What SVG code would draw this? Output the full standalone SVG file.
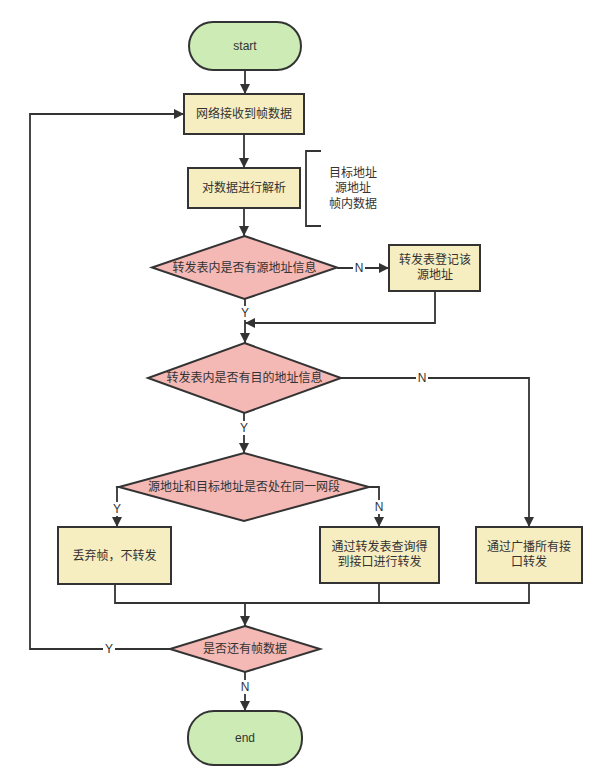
<svg xmlns="http://www.w3.org/2000/svg" width="614" height="777" viewBox="0 0 614 777">
<style>
text{font-family:"Liberation Sans","Noto Sans CJK SC",sans-serif;font-size:12px;fill:#333;text-anchor:middle;dominant-baseline:central}
.term{fill:#cdebb4;stroke:#333;stroke-width:2}
.proc{fill:#f6edc0;stroke:#333;stroke-width:2}
.dec{fill:#f4b8b5;stroke:#333;stroke-width:2}
.ln{fill:none;stroke:#333;stroke-width:1.8}
.lbl{fill:#fff}
</style>
<defs>
<marker id="ah" markerUnits="userSpaceOnUse" markerWidth="10" markerHeight="10" refX="10" refY="5" orient="auto" viewBox="0 0 10 10">
<path d="M0,0 L10,5 L0,10 z" fill="#333"/>
</marker>
</defs>
<rect width="614" height="777" fill="#fff"/>
<g id="connectors">
<path class="ln" d="M245 70 V94" marker-end="url(#ah)"/>
<path class="ln" d="M244 134 V168" marker-end="url(#ah)"/>
<path class="ln" d="M244 208 V236" marker-end="url(#ah)"/>
<path class="ln" d="M337 268 H389" marker-end="url(#ah)"/>
<path class="ln" d="M245 299 V343" marker-end="url(#ah)"/>
<path class="ln" d="M435 291 V323 H245" marker-end="url(#ah)"/>
<path class="ln" d="M341 378 H529 V527" marker-end="url(#ah)"/>
<path class="ln" d="M244 413 V453" marker-end="url(#ah)"/>
<path class="ln" d="M119 487 H117 V527" marker-end="url(#ah)"/>
<path class="ln" d="M369 487 H379 V527" marker-end="url(#ah)"/>
<path class="ln" d="M115 584 V603 H529 V583"/>
<path class="ln" d="M379 583 V603"/>
<path class="ln" d="M245 603 V626" marker-end="url(#ah)"/>
<path class="ln" d="M170 649 H30 V114 H184" marker-end="url(#ah)"/>
<path class="ln" d="M245 672 V711" marker-end="url(#ah)"/>
<path class="ln" d="M321 151 H306 V226 H321"/>
<rect class="lbl" x="353" y="261" width="12" height="14"/>
<text x="359" y="268">N</text>
<rect class="lbl" x="239" y="306" width="12" height="14"/>
<text x="245" y="313">Y</text>
<rect class="lbl" x="416" y="371" width="12" height="14"/>
<text x="422" y="378">N</text>
<rect class="lbl" x="238" y="421" width="12" height="14"/>
<text x="244" y="428">Y</text>
<rect class="lbl" x="111" y="502" width="12" height="14"/>
<text x="117" y="509">Y</text>
<rect class="lbl" x="373" y="500" width="12" height="14"/>
<text x="379" y="507">N</text>
<rect class="lbl" x="103" y="642" width="12" height="14"/>
<text x="109" y="649">Y</text>
<rect class="lbl" x="239" y="680" width="12" height="14"/>
<text x="245" y="687">N</text>
</g>
<g id="start">
<rect class="term" x="189" y="22" width="112" height="48" rx="24"/>
<text x="245" y="46">start</text>
</g>
<g id="receive">
<rect class="proc" x="184" y="94" width="120" height="40"/>
<text x="244" y="114">网络接收到帧数据</text>
</g>
<g id="parse">
<rect class="proc" x="188" y="168" width="112" height="40"/>
<text x="244" y="188">对数据进行解析</text>
</g>
<g id="parse-note">
<text x="353" y="173">目标地址</text>
<text x="353" y="188">源地址</text>
<text x="353" y="204">帧内数据</text>
</g>
<g id="check-src">
<polygon class="dec" points="244.5,236 337,267.5 244.5,299 152,267.5"/>
<text x="244.5" y="268">转发表内是否有源地址信息</text>
</g>
<g id="register-src">
<rect class="proc" x="389" y="245" width="91" height="46"/>
<text x="435" y="260">转发表登记该</text>
<text x="435" y="275">源地址</text>
</g>
<g id="check-dst">
<polygon class="dec" points="244.5,343 341,378 244.5,413 148,378"/>
<text x="244.5" y="378">转发表内是否有目的地址信息</text>
</g>
<g id="same-segment">
<polygon class="dec" points="244,453 369,487 244,521 119,487"/>
<text x="244" y="487">源地址和目标地址是否处在同一网段</text>
</g>
<g id="discard">
<rect class="proc" x="58" y="527" width="113" height="57"/>
<text x="114.5" y="556">丢弃帧，不转发</text>
</g>
<g id="forward-port">
<rect class="proc" x="320" y="527" width="119" height="56"/>
<text x="379.5" y="547">通过转发表查询得</text>
<text x="379.5" y="562">到接口进行转发</text>
</g>
<g id="broadcast">
<rect class="proc" x="476" y="527" width="106" height="56"/>
<text x="529" y="547">通过广播所有接</text>
<text x="529" y="562">口转发</text>
</g>
<g id="more-frames">
<polygon class="dec" points="245,626 320,649 245,672 170,649"/>
<text x="245" y="649">是否还有帧数据</text>
</g>
<g id="end">
<rect class="term" x="188" y="711" width="114" height="54" rx="26"/>
<text x="245" y="738">end</text>
</g>
</svg>
